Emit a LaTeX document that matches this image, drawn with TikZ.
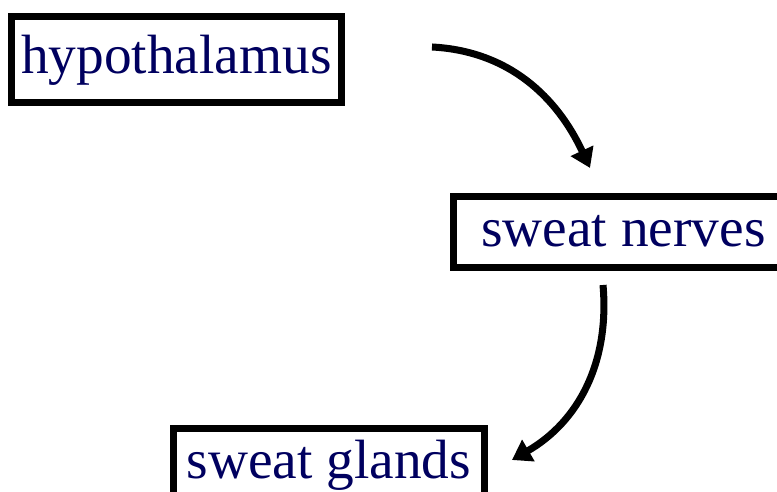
\documentclass[tikz,border=0pt]{standalone}
\usepackage{fontspec}
\setmainfont{Liberation Serif}
\usetikzlibrary{arrows.meta}
\definecolor{tnavy}{HTML}{00005F}

\begin{document}
\begin{tikzpicture}[
    x=0.02cm, y=0.02cm,
    >={Triangle[length=3.8mm, width=4.8mm]},
    organe/.style={draw, rectangle, line width=4pt, inner sep=0pt,
                   text=tnavy, font=\fontsize{31.5}{38}\selectfont,
                   text height=24pt, text depth=8pt},
    fleche/.style={->, line width=4pt}
  ]
  \useasboundingbox (0,0) rectangle (777,492);
  \node[organe, minimum width=6.6cm, minimum height=1.72cm] (hypo) at (176.5,432.5) {hypothalamus};
  \node[organe, minimum width=6.8cm, minimum height=1.42cm] (nerves) at (623.5,260) {sweat nerves};
  \node[organe, minimum width=6.22cm, minimum height=1.44cm] (glands) at (329,27.5) {sweat glands};

  \draw[fleche] ([xshift=1.74cm, yshift=0.25cm]hypo.east) to[out=-3, in=115] ([xshift=-0.67cm, yshift=0.5cm]nerves.north);
  \draw[fleche] ([xshift=-0.41cm, yshift=-0.28cm]nerves.south) to[out=-85, in=30] ([xshift=0.48cm, yshift=0.09cm]glands.east);

\end{tikzpicture}
\end{document}
